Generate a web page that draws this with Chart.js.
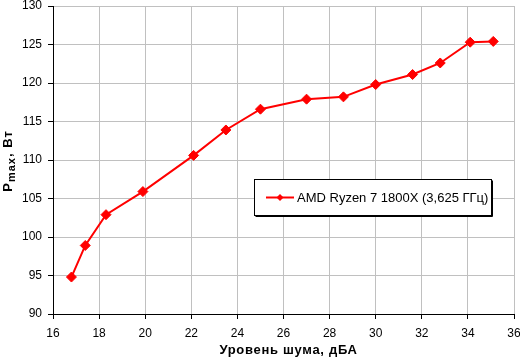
<!DOCTYPE html>
<html>
<head>
<meta charset="utf-8">
<script src="https://cdn.jsdelivr.net/npm/chart.js@4/dist/chart.umd.min.js"></script>
<style>
  html, body { margin: 0; padding: 0; background: #fff; }
  #wrap { width: 520px; height: 357px; }
</style>
</head>
<body>
<div id="wrap"><canvas id="noiseChart" width="520" height="357"></canvas></div>
<script>
// noise level, dBA
const noise = [16.8, 17.4, 18.3, 19.9, 22.1, 23.5, 25.0, 27.0, 28.6, 30.0, 31.6, 32.8, 34.1, 35.1];
// max power, W
const power = [94.8, 98.9, 102.9, 105.9, 110.6, 113.9, 116.6, 117.9, 118.2, 119.8, 121.1, 122.6, 125.3, 125.4];
const seriesName = 'AMD Ryzen 7 1800X (3,625 ГГц)';
const xTitle = 'Уровень шума, дБА';
const yTitle = ['P', 'max', ', Вт'];

const FONT = '"Liberation Sans", Arial, sans-serif';

// legend box inside the plot, with the little shadow on right/bottom
const boxLegend = {
  id: 'boxLegend',
  afterDraw(chart) {
    const ctx = chart.ctx;
    const x = 254.5, y = 179.5, w = 237, h = 36;
    ctx.save();
    ctx.fillStyle = '#fff';
    ctx.fillRect(x, y, w, h);
    ctx.strokeStyle = '#000';
    ctx.lineWidth = 1;
    ctx.strokeRect(x, y, w, h);
    ctx.beginPath();
    ctx.moveTo(x + w + 1, y + 1);
    ctx.lineTo(x + w + 1, y + h + 1);
    ctx.lineTo(x + 1, y + h + 1);
    ctx.stroke();
    const cy = y + h / 2;
    ctx.strokeStyle = '#ff0000';
    ctx.lineWidth = 2;
    ctx.beginPath();
    ctx.moveTo(266, cy);
    ctx.lineTo(294, cy);
    ctx.stroke();
    ctx.fillStyle = '#ff0000';
    ctx.beginPath();
    ctx.moveTo(280, cy - 3.5);
    ctx.lineTo(283.5, cy);
    ctx.lineTo(280, cy + 3.5);
    ctx.lineTo(276.5, cy);
    ctx.closePath();
    ctx.fill();
    ctx.fillStyle = '#000';
    ctx.font = '13px ' + FONT;
    ctx.textBaseline = 'middle';
    ctx.fillText(seriesName, 297, cy + 0.5);
    ctx.restore();
  }
};

// axis titles: x bold with a bit of spacing, y rotated with subscript
const axisTitles = {
  id: 'axisTitles',
  afterDraw(chart) {
    const ctx = chart.ctx;
    const area = chart.chartArea;
    ctx.save();
    ctx.fillStyle = '#000';
    ctx.letterSpacing = '0.7px';
    ctx.font = 'bold 13px ' + FONT;
    ctx.textAlign = 'center';
    ctx.textBaseline = 'alphabetic';
    ctx.fillText(xTitle, (area.left + area.right) / 2 + 5, 354);

    ctx.textAlign = 'left';
    ctx.letterSpacing = '1px';
    const big = 'bold 13px ' + FONT;
    const small = 'bold 11px ' + FONT;
    ctx.font = big;
    const w1 = ctx.measureText(yTitle[0]).width;
    const w3 = ctx.measureText(yTitle[2]).width;
    ctx.font = small;
    const w2 = ctx.measureText(yTitle[1]).width;
    const total = w1 + w2 + w3;
    ctx.translate(11.5, 161);
    ctx.rotate(-Math.PI / 2);
    let px = -total / 2;
    ctx.font = big;
    ctx.fillText(yTitle[0], px, 0);
    px += w1;
    ctx.font = small;
    ctx.fillText(yTitle[1], px, 3.5);
    px += w2;
    ctx.font = big;
    ctx.fillText(yTitle[2], px, 0);
    ctx.restore();
  }
};

document.addEventListener('DOMContentLoaded', () => {
  const ctx = document.getElementById('noiseChart').getContext('2d');
  new Chart(ctx, {
    type: 'line',
    data: {
      datasets: [{
        label: seriesName,
        data: noise.map((v, i) => ({ x: v, y: power[i] })),
        borderColor: '#ff0000',
        backgroundColor: '#ff0000',
        borderWidth: 2,
        pointStyle: 'rectRot',
        pointRadius: 5,
        pointBorderWidth: 1,
        pointBackgroundColor: '#ff0000',
        pointBorderColor: '#ff0000',
        tension: 0
      }]
    },
    options: {
      responsive: false,
      animation: false,
      devicePixelRatio: 1,
      layout: { padding: { top: 5, right: 6, bottom: 0, left: 0 } },
      plugins: {
        legend: { display: false },
        tooltip: { enabled: false }
      },
      scales: {
        x: {
          type: 'linear',
          min: 16,
          max: 36,
          ticks: {
            stepSize: 2,
            padding: 7,
            color: '#000',
            font: { family: FONT, size: 12 },
            maxRotation: 0
          },
          grid: { color: '#c0c0c0', tickColor: '#000', tickLength: 5 },
          border: { color: '#000', width: 1 },
          afterFit(scale) {
            scale.height = 43;
            scale.paddingRight = 0;
            scale.paddingLeft = 0;
          }
        },
        y: {
          min: 90,
          max: 130,
          ticks: {
            stepSize: 5,
            padding: 6,
            color: '#000',
            font: { family: FONT, size: 12 }
          },
          grid: { color: '#c0c0c0', tickColor: '#000', tickLength: 5 },
          border: { color: '#000', width: 1 },
          afterFit(scale) {
            scale.width = 53;
            scale.paddingTop = 0;
            scale.paddingBottom = 0;
          }
        }
      }
    },
    plugins: [boxLegend, axisTitles]
  });
});
</script>
</body>
</html>
